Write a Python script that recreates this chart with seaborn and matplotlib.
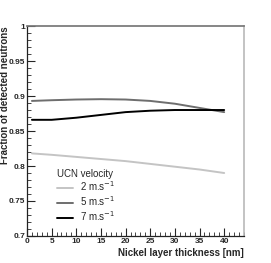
import pandas as pd
import matplotlib
matplotlib.use("Agg")
import matplotlib.pyplot as plt
import seaborn as sns
from matplotlib.ticker import MultipleLocator

sns.set_theme(style="white")
plt.rcParams['font.family'] = ['Liberation Sans', 'DejaVu Sans']

# datos
espesor = [1, 5, 10, 15, 20, 25, 30, 35, 40]
v2 = [0.818, 0.816, 0.813, 0.810, 0.807, 0.803, 0.799, 0.795, 0.790]
v5 = [0.893, 0.894, 0.895, 0.8955, 0.895, 0.893, 0.889, 0.883, 0.877]
v7 = [0.866, 0.866, 0.869, 0.873, 0.877, 0.879, 0.880, 0.880, 0.880]
etiquetas = ['2 m.s$^{-1}$', '5 m.s$^{-1}$', '7 m.s$^{-1}$']
colores = ['#c4c4c4', '#6e6e6e', '#000000']

df = pd.concat([
    pd.DataFrame({'espesor': espesor, 'fraccion': v, 'vel': lab})
    for v, lab in zip([v2, v5, v7], etiquetas)
])

fig = plt.figure(figsize=(2.71, 2.63), dpi=100)
ax = fig.add_axes([0.0996, 0.1027, 0.8004, 0.7983])

sns.lineplot(data=df, x='espesor', y='fraccion', hue='vel', hue_order=etiquetas,
             palette=colores, linewidth=1.4, ax=ax)

ax.set_xlim(0, 44)
ax.set_ylim(0.7, 1.0)
ax.xaxis.set_minor_locator(MultipleLocator(1))
ax.yaxis.set_minor_locator(MultipleLocator(0.01))
ax.set_xticks(range(0, 45, 5))
ax.set_xticklabels([str(t) for t in range(0, 45, 5)])
ax.set_yticks([0.7, 0.75, 0.8, 0.85, 0.9, 0.95, 1.0])
ax.set_yticklabels(['0.7', '0.75', '0.8', '0.85', '0.9', '0.95', '1'])
ax.tick_params(which='major', direction='in', length=6, width=0.8, labelsize=6,
               pad=1.5, top=False, right=False, bottom=True, left=True)
ax.tick_params(which='minor', direction='in', length=3, width=0.6,
               top=False, right=False, bottom=True, left=True)
for t in ax.get_xticklabels() + ax.get_yticklabels():
    t.set_fontweight('bold')

for lado in ['left', 'bottom']:
    ax.spines[lado].set_color('#222222')
    ax.spines[lado].set_linewidth(0.9)
ax.spines['top'].set_color('#777777')
ax.spines['right'].set_color('#bbbbbb')

ax.set_xlabel('Nickel layer thickness [nm]', fontsize=7, fontweight='bold',
              loc='right', labelpad=2)
ax.set_ylabel('Fraction of detected neutrons', fontsize=7, fontweight='bold',
              loc='top')
ax.yaxis.set_label_coords(-0.078, 1.0)

ley = ax.legend(title='UCN velocity', loc='lower left', bbox_to_anchor=(0.1, 0.02),
                frameon=False, fontsize=7, title_fontsize=7, handlelength=1.6,
                labelspacing=0.1, handletextpad=0.7)
ley._legend_box.align = 'left'

plt.savefig('out.png', dpi=100)
plt.close()
